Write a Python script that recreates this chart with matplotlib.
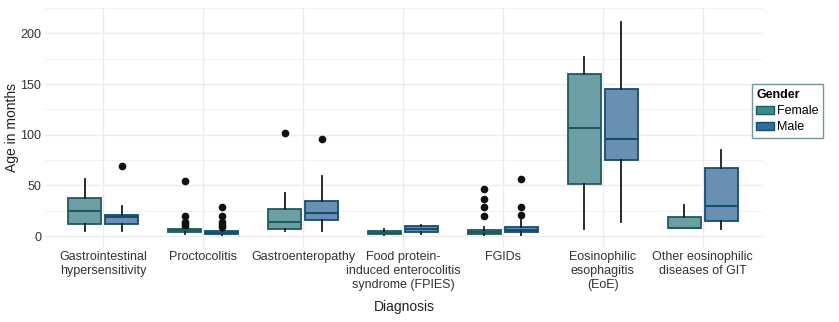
import matplotlib.pyplot as plt
from matplotlib.patches import Patch
import numpy as np

plt.rcParams["font.family"] = ["Liberation Sans", "DejaVu Sans"]

categories = [
    "Gastrointestinal\nhypersensitivity",
    "Proctocolitis",
    "Gastroenteropathy",
    "Food protein-\ninduced enterocolitis\nsyndrome (FPIES)",
    "FGIDs",
    "Eosinophilic\nesophagitis\n(EoE)",
    "Other eosinophilic\ndiseases of GIT",
]

# box statistics (months)
female_lo = [5, 2, 5, 1.5, 1, 6.5, 8]
female_q1 = [12, 4, 7, 1.8, 2.3, 51, 8]
female_med = [25, 5.5, 14, 3, 3.5, 107, 8]
female_q3 = [38, 7, 26.5, 4.8, 6, 160, 18.5]
female_hi = [56, 9, 42, 6.5, 9, 177, 31]
female_out = [[], [54, 20, 14, 12, 10], [102], [], [46, 37, 28.5, 20], [], []]

male_lo = [5, 1, 5, 2, 1, 14, 6.5]
male_q1 = [12, 2, 16, 4, 3.6, 75.5, 15]
male_med = [19, 3, 23, 6.5, 6, 96, 29.5]
male_q3 = [21, 4.5, 35, 9.5, 8.5, 145.5, 67]
male_hi = [30, 6, 59, 11, 16, 211, 85]
male_out = [[69], [29, 20, 13.5, 11, 9], [96], [], [56, 29, 20.7], [], []]


def make_stats(lo, q1, med, q3, hi, out):
    return [
        {"whislo": a, "q1": b, "med": c, "q3": d, "whishi": e, "fliers": f}
        for a, b, c, d, e, f in zip(lo, q1, med, q3, hi, out)
    ]


fig = plt.figure(figsize=(8.39, 3.22), dpi=100)
ax = fig.add_axes([0.054, 0.233, 0.855, 0.742])

x = np.arange(len(categories))
groups = [
    ("Female", make_stats(female_lo, female_q1, female_med, female_q3, female_hi, female_out),
     -0.185, "#6d9ea4", "#1d5b5f", "#3a8d88"),
    ("Male", make_stats(male_lo, male_q1, male_med, male_q3, male_hi, male_out),
     0.185, "#6990b3", "#154d70", "#2f6e9e"),
]

handles = []
for name, stats, off, fill, edge, key in groups:
    ax.bxp(
        stats,
        positions=x + off,
        widths=0.33,
        patch_artist=True,
        showcaps=False,
        boxprops=dict(facecolor=fill, edgecolor=edge, linewidth=1.3),
        medianprops=dict(color=edge, linewidth=1.5),
        whiskerprops=dict(color="#1a1a1a", linewidth=1.3),
        flierprops=dict(marker="o", markerfacecolor="#111111",
                        markeredgecolor="#111111", markersize=4.5),
        zorder=3,
    )
    handles.append(Patch(facecolor=key, edgecolor=edge, label=name))

ax.set_xlim(-0.58, 6.6)
ax.set_ylim(-10.8, 224.6)
ax.set_xticks(x)
ax.set_xticklabels(categories, fontsize=9, color="#222222", linespacing=1.2)
ax.set_yticks([0, 50, 100, 150, 200])
ax.set_yticks([25, 75, 125, 175, 225], minor=True)
ax.tick_params(axis="both", which="both", length=0, labelsize=9, colors="#333333")
ax.tick_params(axis="x", pad=3)
ax.tick_params(axis="y", pad=3)
ax.grid(True, which="major", color="#ebebeb", linewidth=1.0, zorder=0)
ax.grid(True, which="minor", axis="y", color="#f2f2f2", linewidth=0.7, zorder=0)
for s in ax.spines.values():
    s.set_visible(False)

ax.set_ylabel("Age in months", fontsize=10, color="#222222", va="center")
ax.yaxis.set_label_coords(-0.046, 0.5)
ax.set_xlabel("Diagnosis", fontsize=10, color="#222222", va="center")
ax.xaxis.set_label_coords(0.5, -0.251)

leg = fig.legend(
    handles=handles,
    title="Gender",
    loc="upper left",
    bbox_to_anchor=(0.896, 0.738),
    fontsize=9,
    title_fontproperties={"weight": "bold", "size": 9},
    frameon=True,
    fancybox=False,
    handlelength=1.4,
    handleheight=0.6,
    handletextpad=0.3,
    labelspacing=0.35,
    borderpad=0.35,
    borderaxespad=0,
)
leg.get_frame().set_edgecolor("#4f7f86")
leg.get_frame().set_linewidth(1.0)
leg._legend_box.align = "left"

fig.savefig("out.png", dpi=100)
